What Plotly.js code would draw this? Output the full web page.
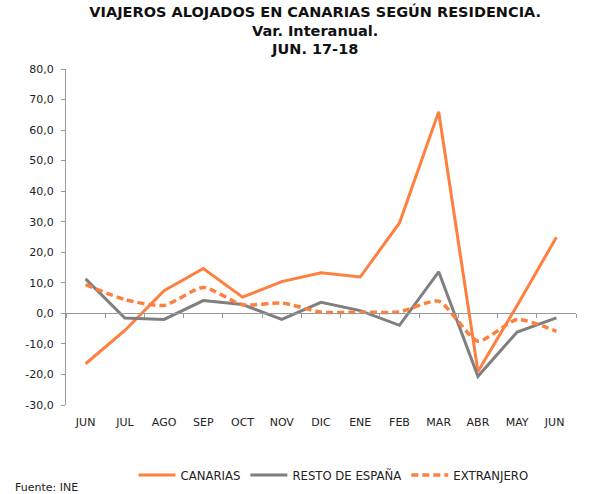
<!DOCTYPE html>
<html><head><meta charset="utf-8">
<script src="https://cdn.plot.ly/plotly-3.0.1.min.js"></script>
<style>html,body{margin:0;padding:0;background:#fff}#c{width:605px;height:494px}</style>
</head><body><div id="c"></div>
<script>
const months = ["JUN","JUL","AGO","SEP","OCT","NOV","DIC","ENE","FEB","MAR","ABR","MAY","JUN "];
const canarias = [-16.5,-5.6,7.4,14.7,5.3,10.4,13.3,11.9,29.6,66.0,-19.0,2.6,24.9];
const resto = [11.3,-1.5,-2.0,4.2,2.9,-2.0,3.6,0.9,-3.9,13.6,-20.6,-6.1,-1.5];
const extranjero = [9.4,4.5,2.6,8.5,2.8,3.4,0.4,0.4,0.5,4.0,-9.1,-2.0,-5.9];
const yTicks = [80,70,60,50,40,30,20,10,0,-10,-20,-30];
const yTickText = yTicks.map(v => v.toFixed(1).replace('.', ','));

const orange = '#FF7F3F', gray = '#7F7F7F';
const FONT = 'DejaVu Sans, Verdana, sans-serif';
const data = [
  {x: months, y: canarias, name: 'CANARIAS', type: 'scatter', mode: 'lines', line: {color: orange, width: 3}},
  {x: months, y: resto, name: 'RESTO DE ESPAÑA', type: 'scatter', mode: 'lines', line: {color: gray, width: 3}},
  {x: months, y: extranjero, name: 'EXTRANJERO', type: 'scatter', mode: 'lines', line: {color: orange, width: 3.5, dash: '7px,4px', shape: 'spline', smoothing: 0.6}},
  {x: months, y: months.map(() => null), xaxis: 'x2', showlegend: false, hoverinfo: 'skip', mode: 'lines'}
];
const layout = {
  width: 605, height: 494,
  margin: {l: 66, r: 29, t: 69, b: 89, autoexpand: false},
  paper_bgcolor: '#fff', plot_bgcolor: '#fff',
  font: {family: FONT, size: 11, color: '#222'},
  title: {text: '<b>VIAJEROS ALOJADOS EN CANARIAS SEGÚN RESIDENCIA.<br>Var. Interanual.<br>JUN. 17-18</b>',
          font: {size: 14.5, color: '#111', family: FONT},
          x: 0.521, xanchor: 'center', xref: 'container', y: 0.966, yanchor: 'top', yref: 'container'},
  showlegend: true,
  legend: {orientation: 'h', x: 0.5245, xanchor: 'center', y: -0.165, yanchor: 'top', itemwidth: 37,
           font: {size: 11.7, color: '#222', family: FONT}},
  xaxis: {type: 'category', categoryarray: months, range: [-0.5, 12.5], showline: false, ticks: 'outside', ticklen: 7, tickcolor: 'rgba(0,0,0,0)',
          showgrid: false, zeroline: false, tickfont: {size: 11}},
  xaxis2: {type: 'category', categoryarray: months, overlaying: 'x', anchor: 'free', position: 30/110, range: [-0.5, 12.5],
           showline: true, linecolor: '#999', linewidth: 1, ticks: 'outside', tickson: 'boundaries', ticklen: 4, tickcolor: '#999',
           showticklabels: false, showgrid: false, zeroline: false},
  yaxis: {range: [-30, 80], tickvals: yTicks, ticktext: yTickText, showgrid: false, zeroline: false, ticklabelstandoff: 5,
          showline: true, linecolor: '#999', linewidth: 1, ticks: 'outside', ticklen: 4, tickcolor: '#999', tickfont: {size: 11}},
  annotations: [{text: 'Fuente: INE', xref: 'paper', yref: 'paper', x: -0.104, y: -0.247, xanchor: 'left', yanchor: 'middle', showarrow: false, font: {size: 11, color: '#222', family: FONT}}]
};
Plotly.newPlot('c', data, layout, {displayModeBar: false, staticPlot: true});
</script></body></html>
